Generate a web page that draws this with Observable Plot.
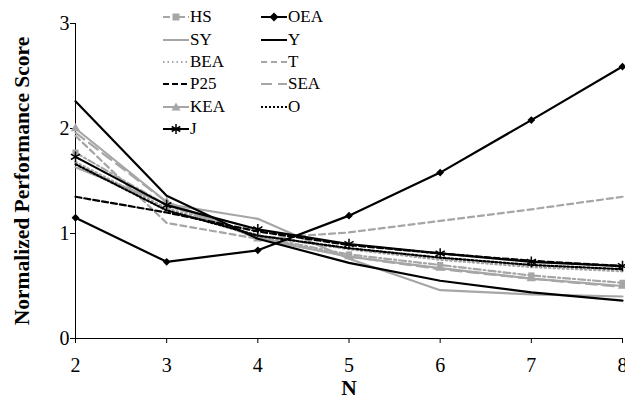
<!DOCTYPE html>
<html><head><meta charset="utf-8">
<script src="https://cdn.jsdelivr.net/npm/d3@7"></script>
<script src="https://cdn.jsdelivr.net/npm/@observablehq/plot@0.6"></script>
<style>
body{margin:0;background:#fff;}
#wrap{position:relative;width:625px;height:399px;font-family:"Liberation Serif","Times New Roman",serif;overflow:hidden;}
.leg{position:absolute;height:18px;display:flex;align-items:center;font-size:17px;line-height:18px;color:#000;white-space:nowrap;}
.leg svg{display:block;margin-right:1px;}
</style></head><body><div id="wrap"></div>
<script>
// ---- data ----
const nValues = [2, 3, 4, 5, 6, 7, 8];
const yTicks = [0, 1, 2, 3];
const seriesNames = ["HS", "SY", "BEA", "P25", "KEA", "J", "OEA", "Y", "T", "SEA", "O"];
const HS  = [1.77, 1.27, 0.97, 0.80, 0.70, 0.60, 0.53];
const SY  = [1.63, 1.28, 1.14, 0.76, 0.46, 0.42, 0.40];
const BEA = [1.68, 1.24, 0.98, 0.85, 0.75, 0.68, 0.64];
const P25 = [1.35, 1.20, 1.02, 0.89, 0.81, 0.74, 0.69];
const KEA = [2.00, 1.30, 0.95, 0.78, 0.67, 0.57, 0.50];
const J   = [1.73, 1.27, 1.04, 0.90, 0.81, 0.73, 0.69];
const OEA = [1.15, 0.73, 0.84, 1.17, 1.58, 2.08, 2.59];
const Y   = [2.26, 1.36, 0.95, 0.72, 0.55, 0.44, 0.36];
const T   = [1.93, 1.10, 0.95, 1.01, 1.12, 1.23, 1.35];
const SEA = [1.96, 1.30, 0.96, 0.78, 0.66, 0.57, 0.49];
const O   = [1.66, 1.22, 0.98, 0.86, 0.77, 0.70, 0.66];
const seriesValues = {HS, SY, BEA, P25, KEA, J, OEA, Y, T, SEA, O};

// ---- styles ----
const FONT = '"Liberation Serif","Times New Roman",serif';
const GRAY = "#a6a6a6", BLACK = "#000";
const styles = {
  HS:  {stroke: GRAY,  dash: "7,3,2,3", symbol: "square"},
  SY:  {stroke: GRAY,  dash: null},
  BEA: {stroke: GRAY,  dash: "1.5,3"},
  P25: {stroke: BLACK, dash: "6,3"},
  KEA: {stroke: GRAY,  dash: null, symbol: "triangle"},
  J:   {stroke: BLACK, dash: null, symbol: "asterisk"},
  OEA: {stroke: BLACK, dash: null, symbol: "diamond2"},
  Y:   {stroke: BLACK, dash: null},
  T:   {stroke: GRAY,  dash: "6,4"},
  SEA: {stroke: GRAY,  dash: "11,6"},
  O:   {stroke: BLACK, dash: "2,2"}
};
const drawOrder = ["SY", "T", "SEA", "KEA", "HS", "BEA", "Y", "P25", "O", "J", "OEA"];

const marks = [];
for (const name of drawOrder) {
  const data = nValues.map((n, i) => ({n, v: seriesValues[name][i]}));
  const s = styles[name];
  marks.push(Plot.line(data, {x: "n", y: "v", stroke: s.stroke, strokeWidth: 2.2, strokeDasharray: s.dash || undefined}));
  if (s.symbol) {
    const ast = s.symbol === "asterisk";
    marks.push(Plot.dot(data, {x: "n", y: "v", symbol: s.symbol, r: ast ? 5 : 3.5,
      fill: ast ? "none" : s.stroke, stroke: s.stroke, strokeWidth: ast ? 1.5 : 0}));
  }
}

const chart = Plot.plot({
  width: 625, height: 399,
  marginLeft: 75, marginRight: 3, marginTop: 23, marginBottom: 61,
  style: {fontFamily: FONT, fontSize: "20px", color: "#000", background: "#fff"},
  x: {domain: [2, 8]},
  y: {domain: [0, 3]},
  marks: [
    Plot.axisX({ticks: nValues, tickSize: 5, tickPadding: 14, tickFormat: d => String(d), label: null, fontSize: 20, fontFamily: FONT}),
    Plot.axisY({ticks: yTicks, tickSize: 5, tickPadding: 1, tickFormat: d => String(d), label: null, fontSize: 20, fontFamily: FONT}),
    Plot.ruleX([2], {stroke: BLACK, strokeWidth: 1}),
    Plot.ruleY([0], {stroke: BLACK, strokeWidth: 1}),
    ...marks,
    Plot.text(["Normalized Performance Score"], {text: d => d, frameAnchor: "left", textAnchor: "middle", lineAnchor: "middle", rotate: -90, dx: -53, fontWeight: "bold", fontSize: 21.5, fontFamily: FONT}),
    Plot.text(["N"], {text: d => d, frameAnchor: "bottom", lineAnchor: "middle", dy: 50, fontWeight: "bold", fontSize: 21.5, fontFamily: FONT})
  ]
});
const wrap = document.getElementById("wrap");
wrap.appendChild(chart);

// ---- legend ----
const legendCols = [["HS", "SY", "BEA", "P25", "KEA", "J"], ["OEA", "Y", "T", "SEA", "O"]];
const colLeft = [163, 261];
const rowTop = [8, 31, 53, 75, 98, 120];
function symbolSvg(sym, color, cx, cy) {
  if (sym === "square") return `<rect x="${cx-3.5}" y="${cy-3.5}" width="7" height="7" fill="${color}"/>`;
  if (sym === "triangle") return `<path d="M${cx},${cy-4.5}L${cx+4.5},${cy+3.5}L${cx-4.5},${cy+3.5}Z" fill="${color}"/>`;
  if (sym === "diamond2") return `<path d="M${cx},${cy-4.5}L${cx+4.5},${cy}L${cx},${cy+4.5}L${cx-4.5},${cy}Z" fill="${color}"/>`;
  if (sym === "asterisk") return `<path d="M${cx},${cy-5}V${cy+5}M${cx-4.3},${cy-2.5}L${cx+4.3},${cy+2.5}M${cx-4.3},${cy+2.5}L${cx+4.3},${cy-2.5}" stroke="${color}" stroke-width="1.5" fill="none"/>`;
  return "";
}
legendCols.forEach((col, ci) => {
  col.forEach((name, ri) => {
    const s = styles[name];
    const div = document.createElement("div");
    div.className = "leg";
    div.style.left = colLeft[ci] + "px";
    div.style.top = rowTop[ri] + "px";
    div.style.fontFamily = FONT;
    div.innerHTML = `<svg width="26" height="18"><line x1="0" y1="9" x2="26" y2="9" stroke="${s.stroke}" stroke-width="2" ${s.dash ? `stroke-dasharray="${s.dash}"` : ""}/>${s.symbol ? symbolSvg(s.symbol, s.stroke, 13, 9) : ""}</svg><span style="font-family:'Liberation Serif',serif">${name}</span>`;
    wrap.appendChild(div);
  });
});
</script>
</body></html>
